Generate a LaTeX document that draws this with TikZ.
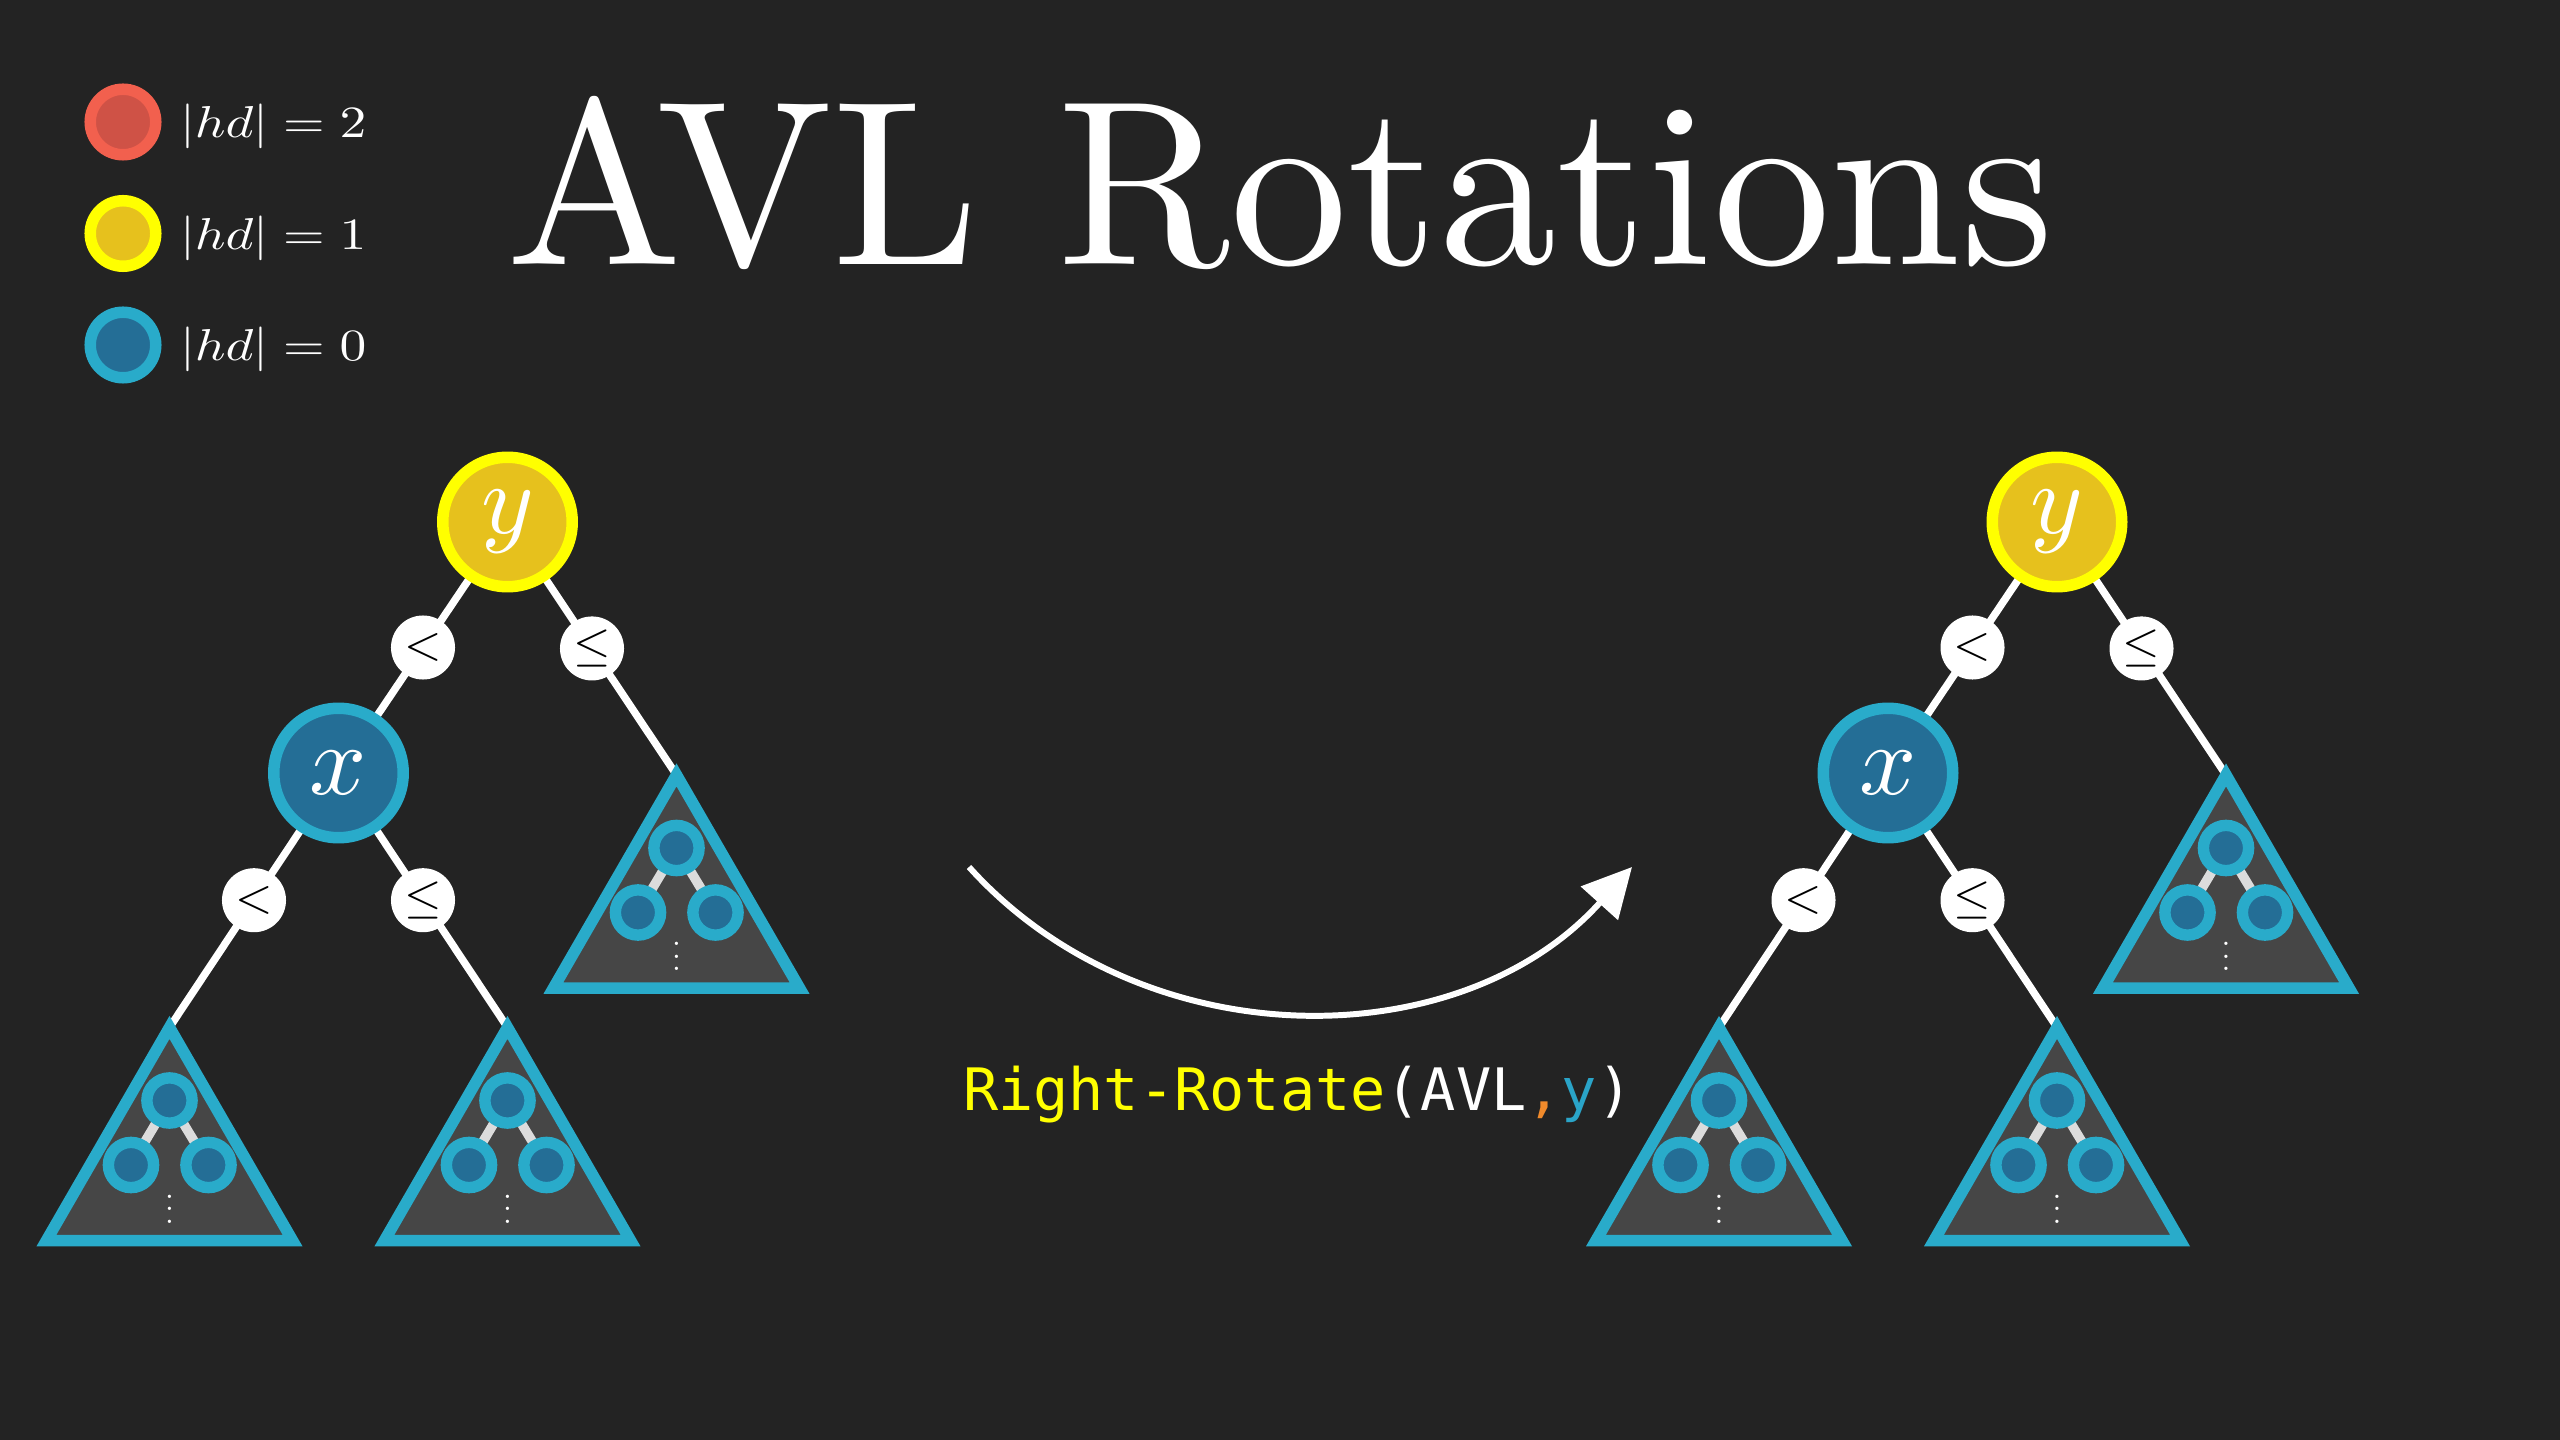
\documentclass[tikz,border=0pt]{standalone}
\usepackage{fontspec}
\usepackage{graphicx}
\usetikzlibrary{shapes.geometric,arrows.meta}
\newfontfamily\codefont{DejaVu Sans Mono}
\definecolor{bgc}{HTML}{232323}
\definecolor{ringY}{HTML}{FFFF00}
\definecolor{fillY}{HTML}{E6C11D}
\definecolor{ringB}{HTML}{29ABCA}
\definecolor{fillB}{HTML}{246E96}
\definecolor{ringR}{HTML}{F2604E}
\definecolor{fillR}{HTML}{CF5246}
\definecolor{triFill}{HTML}{464646}
\definecolor{miniGray}{HTML}{DCDCDC}
\definecolor{codeY}{HTML}{FFFF00}
\definecolor{codeO}{HTML}{F08A2B}
\definecolor{codeB}{HTML}{2AA4C8}
\pgfdeclarelayer{back}
\pgfdeclarelayer{tris}
\pgfdeclarelayer{minil}
\pgfsetlayers{back,tris,minil,main}
\newcommand\tightvdots{\vbox{\baselineskip=4pt\lineskiplimit=0pt\hbox{.}\hbox{.}\hbox{.}}}
\tikzset{
  edge/.style={draw=white, line width=2.13pt},
  bignode/.style={circle, inner sep=0pt, outer sep=0pt, minimum size=1.294cm, line width=3.27pt, text=white},
  ybal/.style={bignode, draw=ringY, fill=fillY},
  xbal/.style={bignode, draw=ringB, fill=fillB},
  lbl/.style={circle, fill=white, inner sep=0pt, minimum size=0.64cm, text=black},
  tri/.style={regular polygon, regular polygon sides=3, minimum size=2.84cm, inner sep=0pt, outer sep=0pt, draw=ringB, fill=triFill, line width=3.27pt, line join=miter},
  mini/.style={circle, inner sep=0pt, outer sep=0pt, minimum size=0.452cm, draw=ringB, fill=fillB, line width=3.24pt},
  miniedge/.style={draw=miniGray, line width=2.7pt},
  legdot/.style={circle, inner sep=0pt, minimum size=0.655cm, line width=3.27pt},
  txt/.style={inner sep=0pt, outer sep=0pt, text=white, anchor=base west},
  dotsnode/.style={inner sep=0pt, outer sep=0pt, text=white, anchor=base},
}
\newcommand\subtree[2]{%
  \begin{pgfonlayer}{tris}\node[tri] (#1) at #2 {};\end{pgfonlayer}
  \node[mini] (#1a) at ([shift={(0,-69)}]#1.center) {};
  \node[mini] (#1b) at ([shift={(-38.5,-4.5)}]#1.center) {};
  \node[mini] (#1c) at ([shift={(39,-4.5)}]#1.center) {};
  \begin{pgfonlayer}{minil}\draw[miniedge] (#1a) -- (#1b) (#1a) -- (#1c);\end{pgfonlayer}
  \node[dotsnode] (#1d) at ([shift={(0,54)}]#1.center) {\scalebox{0.9}{\tightvdots}};
}
\newcommand\avltree[3]{%
  \node[ybal] (#1y) at (#2,#3) {\scalebox{2.85}{$y$}};
  \node[xbal] (#1x) at ([shift={(-169,251)}]#1y.center) {\scalebox{2.85}{$x$}};
  \subtree{#1r}{([shift={(169,395)}]#1y.center)}
  \subtree{#1ll}{([shift={(-169,396.5)}]#1x.center)}
  \subtree{#1lr}{([shift={(169,396.5)}]#1x.center)}
  \begin{pgfonlayer}{back}
    \draw[edge] (#1y.center) -- node[lbl] (#1e1) {\scalebox{1.37}{$<$}} (#1x.center);
    \draw[edge] (#1y.center) -- node[lbl] (#1e2) {\scalebox{1.37}{$\leq$}} (#1r.corner 1);
    \draw[edge] (#1x.center) -- node[lbl] (#1e3) {\scalebox{1.37}{$<$}} (#1ll.corner 1);
    \draw[edge] (#1x.center) -- node[lbl] (#1e4) {\scalebox{1.37}{$\leq$}} (#1lr.corner 1);
  \end{pgfonlayer}
}
\begin{document}
\begin{tikzpicture}[x=0.01cm,y=-0.01cm]
\begin{pgfonlayer}{back}
  \fill[bgc] (0,0) rectangle (2560,1440);
\end{pgfonlayer}
\useasboundingbox (0,0) rectangle (2560,1440);

% legend
\node[legdot, draw=ringR, fill=fillR] (leg2) at (123,122) {};
\node[legdot, draw=ringY, fill=fillY] (leg1) at (123,233.5) {};
\node[legdot, draw=ringB, fill=fillB] (leg0) at (123,345) {};
\node[txt] (legt2) at (180,138) {\scalebox{1.52}[1.27]{$|hd| = 2$}};
\node[txt] (legt1) at (180,249.5) {\scalebox{1.52}[1.27]{$|hd| = 1$}};
\node[txt] (legt0) at (180,361) {\scalebox{1.52}[1.27]{$|hd| = 0$}};

% title
\node[txt] (title) at (506,265) {\scalebox{6.68}{AVL Rotations}};

% trees
\avltree{L}{507.5}{522}
\avltree{R}{2057}{522}

% rotation arrow
\coordinate (arcS) at (969,867);
\coordinate (arcE) at (1632,867);
\draw[white, line width=1.7pt, -{Triangle[length=13.9pt,width=13.9pt]}] (arcS) to[bend right=48] (arcE);

% code label
\node[txt] (code) at (963,1110) {\codefont\fontsize{16.64}{20}\selectfont\textcolor{codeY}{Right-Rotate}\textcolor{white}{(AVL}\textcolor{codeO}{,}\textcolor{codeB}{y}\textcolor{white}{)}};
\end{tikzpicture}
\end{document}
